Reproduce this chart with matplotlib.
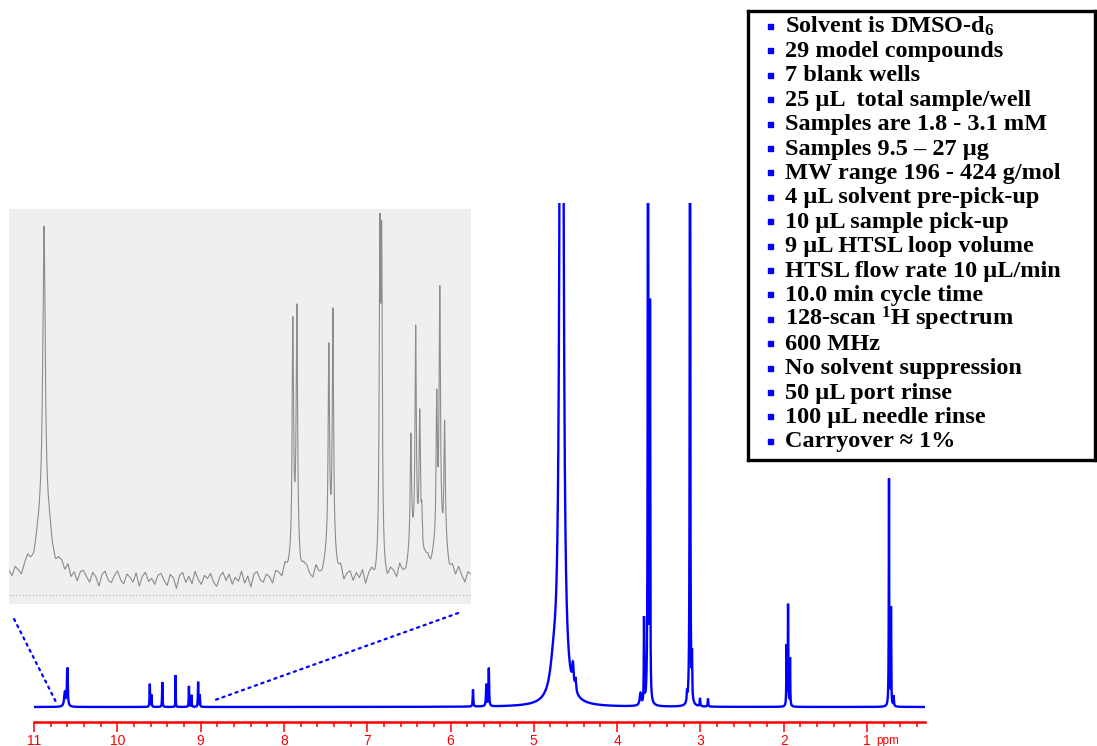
import numpy as np
import matplotlib
matplotlib.use("Agg")
import matplotlib.pyplot as plt
from matplotlib.patches import ConnectionPatch

plt.rcParams["mathtext.fontset"] = "custom"
plt.rcParams["mathtext.rm"] = "Liberation Serif:bold"
plt.rcParams["mathtext.bf"] = "Liberation Serif:bold"
plt.rcParams["mathtext.it"] = "Liberation Serif:bold:italic"
plt.rcParams["mathtext.default"] = "rm"

# ---- main spectrum: peaks as (ppm, height, half-width ppm) ----
main_ppm = [10.60, 10.63, 9.61, 9.59, 9.46, 9.30, 9.14, 9.11, 9.03, 9.01,
            5.73, 5.54, 5.57, 4.667, 4.76, 4.53, 4.50,
            3.72, 3.677, 3.629, 3.605, 3.161, 3.125, 3.101, 3.005, 2.909,
            1.966, 1.948, 1.924, 0.736, 0.712, 0.68]
main_height = [38, 14, 23, 12, 25, 32, 21, 12, 25, 12,
               17, 38, 22, 2600, 28, 22, 12,
               12, 85, 800, 390, 10, 800, 41, 8, 8,
               60, 101, 48, 227, 97, 10]
main_width = [0.006, 0.01, 0.003, 0.003, 0.003, 0.002, 0.003, 0.003, 0.003, 0.003,
              0.004, 0.004, 0.005, 0.0125, 0.05, 0.01, 0.008,
              0.01, 0.003, 0.0036, 0.003, 0.004, 0.0036, 0.003, 0.004, 0.004,
              0.003, 0.003, 0.003, 0.003, 0.003, 0.004]

# ---- inset spectrum (expanded 10.7 - 8.9 ppm region) ----
inset_ppm = [10.602, 10.602, 9.622, 9.606, 9.480, 9.464, 9.279, 9.272, 9.157,
             9.138, 9.122, 9.114, 9.055, 9.043, 9.024,
             9.614, 9.472, 9.14, 9.04]
inset_height = [300, 55, 225, 232, 196, 239, 309, 300, 113,
                220, 136, 44, 151, 244, 123,
                35, 30, 25, 30]
inset_width = [0.0059, 0.039, 0.0031, 0.0031, 0.0031, 0.0031, 0.0031, 0.0031, 0.0031,
               0.0031, 0.0031, 0.0031, 0.0031, 0.0031, 0.0031,
               0.02, 0.02, 0.03, 0.03]
inset_noise = [4, -2, 6, 1, -5, 3, 8, -1, -6, 2, 5, -3, 0, 7, -4, -8, 2, 4, -2, 6,
               -5, 1, -7, 3, 5, -1, -6, 4, 0, -9, 3, 6, -3, -5, 2, 7, -2, -6, 4, 1,
               -4, 5, -8, 2, 6, -3, 0, -6, 3, 5, -2, -7, 4, 1, -10, 3, 6, -4, 2, -5,
               7, -1, -6, 3, 0, 5, -4, -8, 2, 6, -2, 4, -6, 1, -3, 7, -5, 2, -9, 4,
               6, -2, -5, 3, 0, -7, 5, 2, -4, 6, -3, -6, 1, 4, -8, 3, 5, -2, -5, 7,
               -1, -4, 3, 6, -6, 2, -3, 5, -7, 1, 4, -5, 3, -2, 6, -8, 2, 5, -4, 0,
               6, -3, -7, 4, 2, -5, 7, -2, -6, 3, 5, -4, 1, -9, 4, 6, -3, 2, -6, 5,
               -2, 7, -5, 3, -4, 6, -1, -7, 4, 2]

notes = [
    "Solvent is DMSO-d$_6$",
    "29 model compounds",
    "7 blank wells",
    "25 \u00b5L  total sample/well",
    "Samples are 1.8 - 3.1 mM",
    "Samples 9.5 \u2013 27 \u00b5g",
    "MW range 196 - 424 g/mol",
    "4 \u00b5L solvent pre-pick-up",
    "10 \u00b5L sample pick-up",
    "9 \u00b5L HTSL loop volume",
    "HTSL flow rate 10 \u00b5L/min",
    "10.0 min cycle time",
    "128-scan $^1$H spectrum",
    "600 MHz",
    "No solvent suppression",
    "50 \u00b5L port rinse",
    "100 \u00b5L needle rinse",
    "Carryover \u2248 1%",
]

major_ticks = [11, 10, 9, 8, 7, 6, 5, 4, 3, 2, 1]
narrow = ["Liberation Sans Narrow", "Liberation Sans"]


def spectrum(x, ppm, height, width):
    y = np.zeros_like(x)
    for p, h, w in zip(ppm, height, width):
        y += h * w ** 2 / (w ** 2 + (x - p) ** 2)
    return y


W, H = 1097, 746
fig = plt.figure(figsize=(W / 100, H / 100), dpi=100)

# main axes: 11 ppm at x=34 px, 83.3 px per ppm, baseline at y=707
ax = fig.add_axes([34 / W, (H - 722) / H, 891 / W, 519 / H])
ax.patch.set_alpha(0)
x_lo = 11 - 891 / 83.3
x = np.linspace(11, x_lo, 24000)
y = spectrum(x, main_ppm, main_height, main_width)
ax.plot(x, y, color="#0000ff", lw=1.7, solid_joinstyle="miter")
ax.set_xlim(11, x_lo)
ax.set_ylim(-15, 504)
ax.set_xticks(major_ticks)
ax.set_xticklabels([str(t) for t in major_ticks])
ax.set_xticks(np.arange(11, 0.3, -0.2), minor=True)
ax.tick_params(axis="x", which="major", direction="out", length=7.2, width=1.1,
               color="#ff0000", labelcolor="#ff0000", labelsize=10, pad=1.5)
ax.tick_params(axis="x", which="minor", direction="out", length=3.6, width=1.1,
               color="#ff0000")
for lab in ax.get_xticklabels():
    lab.set_family(narrow)
ax.set_yticks([])
for s in ["left", "right", "top"]:
    ax.spines[s].set_visible(False)
ax.spines["bottom"].set_color("#ff0000")
ax.spines["bottom"].set_linewidth(1.8)
ax.text(0.75, -0.037, "ppm", transform=ax.get_xaxis_transform(), color="#ff0000",
        fontsize=8.5, ha="center", va="center", family=narrow)

# inset expansion
axi = fig.add_axes([9 / W, (H - 604) / H, 462 / W, 395 / H])
axi.set_facecolor("#efefef")
xi = np.linspace(10.74, 8.92, 9000)
yi = spectrum(xi, inset_ppm, inset_height, inset_width)
yi += np.interp(xi[::-1], np.linspace(8.92, 10.74, len(inset_noise)), inset_noise[::-1])[::-1]
axi.plot(xi, yi, color="#8c8c8c", lw=0.8)
axi.axhline(-16, color="#b0b0b0", lw=0.8, ls=(0, (1, 2)))
axi.set_xlim(10.74, 8.92)
axi.set_ylim(-25, 370)
axi.set_xticks([])
axi.set_yticks([])
for s in axi.spines.values():
    s.set_visible(False)

# dotted guide lines from the inset to the expanded region
for xa, xb in [((0.011, -0.038), (10.736, 5)), ((0.972, -0.023), (8.827, 7))]:
    con = ConnectionPatch(xyA=xa, coordsA=axi.transAxes, xyB=xb, coordsB=ax.transData,
                          color="#0000ff", lw=1.6, ls=(0, (1, 2.1)))
    fig.add_artist(con)

# notes box
axb = fig.add_axes([748 / W, (H - 460) / H, 347 / W, 449 / H])
axb.set_xlim(748, 1095)
axb.set_ylim(460, 11)
axb.set_xticks([])
axb.set_yticks([])
for s in axb.spines.values():
    s.set_linewidth(2.4)
    s.set_color("black")
for i, line in enumerate(notes):
    yc = 25 + 24.4 * i
    axb.plot([770], [yc + 1], marker="s", ms=3.6, color="#0000ff", ls="none")
    axb.text(785, yc + 7.5, line, fontsize=17.5, family="Liberation Serif",
             fontweight="bold", va="baseline", ha="left")

fig.savefig("out.png", dpi=100)
